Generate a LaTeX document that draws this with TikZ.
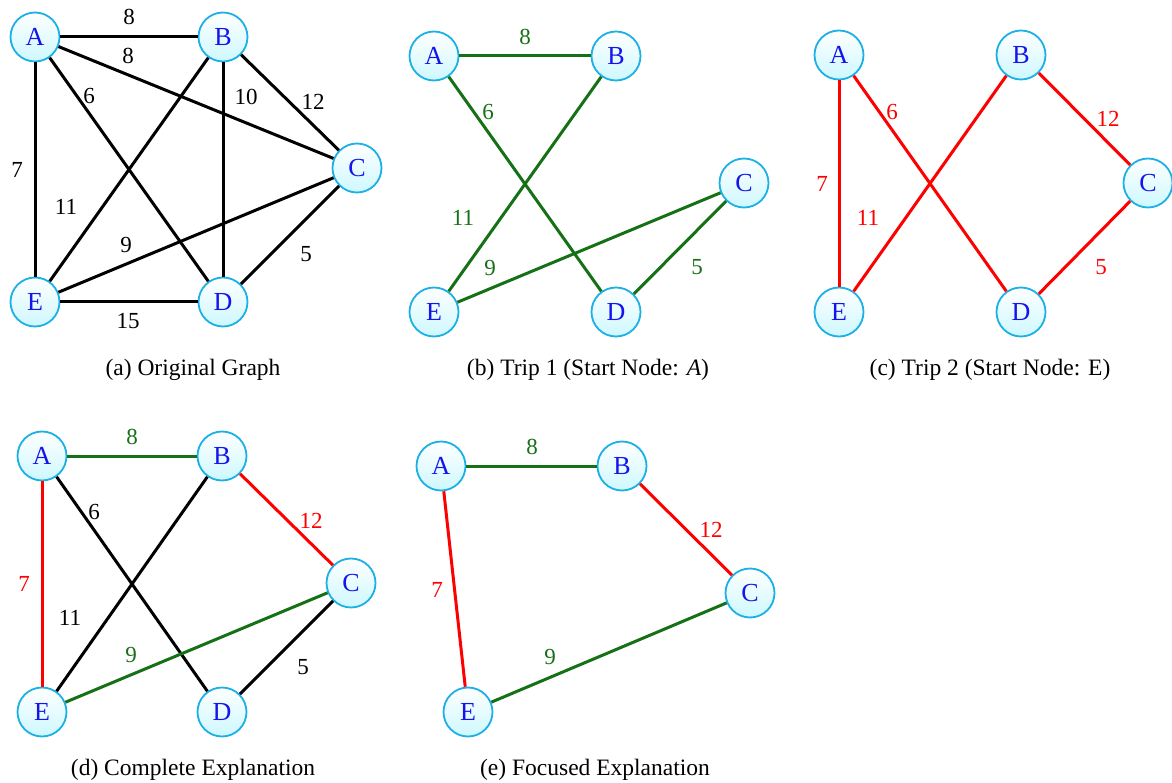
\documentclass[tikz,border=0pt]{standalone}
\usepackage{fontspec}
\setmainfont{Liberation Serif}
\definecolor{nborder}{RGB}{28,176,230}
\definecolor{nfill}{RGB}{205,248,255}
\definecolor{ntext}{RGB}{20,20,235}
\definecolor{egreen}{RGB}{22,112,22}
\definecolor{ered}{RGB}{255,0,0}
\tikzset{
  gnode/.style={circle, draw=nborder, line width=1.8pt, minimum size=49pt, inner sep=0pt,
    top color=white, bottom color=nfill, text=ntext, font=\fontsize{26}{30}\selectfont},
  edgeb/.style={line width=3pt, black},
  edgeg/.style={line width=3pt, egreen},
  edger/.style={line width=3pt, ered},
  lab/.style={inner sep=0pt, font=\fontsize{23}{28}\selectfont},
  labb/.style={lab, text=black},
  labg/.style={lab, text=egreen},
  labr/.style={lab, text=ered},
  capt/.style={inner sep=0pt, anchor=base, font=\fontsize{23.5}{28}\selectfont}
}
\begin{document}
\begin{tikzpicture}[x=1pt,y=-1pt]
\useasboundingbox (0,0) rectangle (1172,783);
% ---------- (a) ----------
\node[gnode] (aA) at (35,37) {A};
\node[gnode] (aB) at (223,37) {B};
\node[gnode] (aC) at (357,168) {C};
\node[gnode] (aD) at (223,302) {D};
\node[gnode] (aE) at (35,302) {E};
\draw[edgeb] (aA) -- (aB);
\draw[edgeb] (aA) -- (aC);
\draw[edgeb] (aA) -- (aD);
\draw[edgeb] (aA) -- (aE);
\draw[edgeb] (aB) -- (aC);
\draw[edgeb] (aB) -- (aD);
\draw[edgeb] (aB) -- (aE);
\draw[edgeb] (aC) -- (aD);
\draw[edgeb] (aC) -- (aE);
\draw[edgeb] (aE) -- (aD);
\node[labb] (la1) at (129,17) {8};
\node[labb] (la2) at (128,56) {8};
\node[labb] (la3) at (89,96) {6};
\node[labb] (la4) at (246,97) {10};
\node[labb] (la5) at (313,102) {12};
\node[labb] (la6) at (17,170) {7};
\node[labb] (la7) at (66,207) {11};
\node[labb] (la8) at (126,245) {9};
\node[labb] (la9) at (306,254) {5};
\node[labb] (la10) at (128,321) {15};
\node[capt] (ca) at (193,375) {(a) Original Graph};
% ---------- (b) ----------
\node[gnode] (bA) at (434,56) {A};
\node[gnode] (bB) at (616,56) {B};
\node[gnode] (bC) at (744,183) {C};
\node[gnode] (bD) at (616,312) {D};
\node[gnode] (bE) at (434,312) {E};
\draw[edgeg] (bA) -- (bB);
\draw[edgeg] (bA) -- (bD);
\draw[edgeg] (bB) -- (bE);
\draw[edgeg] (bE) -- (bC);
\draw[edgeg] (bC) -- (bD);
\node[labg] (lb1) at (525,37) {8};
\node[labg] (lb2) at (488,112) {6};
\node[labg] (lb3) at (463,218) {11};
\node[labg] (lb4) at (490,268) {9};
\node[labg] (lb5) at (697,267) {5};
\node[capt] (cb) at (588,375) {(b) Trip 1 (Start Node: \textit{A})};
% ---------- (c) ----------
\node[gnode] (cA) at (839,55) {A};
\node[gnode] (cB) at (1021,55) {B};
\node[gnode] (cC) at (1148,183) {C};
\node[gnode] (cD) at (1021,312) {D};
\node[gnode] (cE) at (839,312) {E};
\draw[edger] (cA) -- (cE);
\draw[edger] (cA) -- (cD);
\draw[edger] (cB) -- (cE);
\draw[edger] (cB) -- (cC);
\draw[edger] (cC) -- (cD);
\node[labr] (lc1) at (892,112) {6};
\node[labr] (lc2) at (1108,119) {12};
\node[labr] (lc3) at (822,184) {7};
\node[labr] (lc4) at (868,218) {11};
\node[labr] (lc5) at (1101,267) {5};
\node[capt] (cc) at (990,375) {(c) Trip 2 (Start Node: E)};
% ---------- (d) ----------
\node[gnode] (dA) at (42,456) {A};
\node[gnode] (dB) at (222,456) {B};
\node[gnode] (dC) at (351,583) {C};
\node[gnode] (dD) at (222,712) {D};
\node[gnode] (dE) at (42,712) {E};
\draw[edgeb] (dA) -- (dD);
\draw[edgeb] (dB) -- (dE);
\draw[edgeb] (dC) -- (dD);
\draw[edgeg] (dA) -- (dB);
\draw[edger] (dA) -- (dE);
\draw[edger] (dB) -- (dC);
\draw[edgeg] (dC) -- (dE);
\node[labg] (ld1) at (132,437) {8};
\node[labb] (ld2) at (94,512) {6};
\node[labr] (ld3) at (311,521) {12};
\node[labr] (ld4) at (24,584) {7};
\node[labb] (ld5) at (70,618) {11};
\node[labg] (ld6) at (131,655) {9};
\node[labb] (ld7) at (303,667) {5};
\node[capt] (cd) at (193,775) {(d) Complete Explanation};
% ---------- (e) ----------
\node[gnode] (eA) at (441,466) {A};
\node[gnode] (eB) at (622,466) {B};
\node[gnode] (eC) at (750,593) {C};
\node[gnode] (eE) at (468,712) {E};
\draw[edgeg] (eA) -- (eB);
\draw[edger] (eB) -- (eC);
\draw[edgeg] (eC) -- (eE);
\draw[edger] (eA) -- (eE);
\node[labg] (le1) at (532,447) {8};
\node[labr] (le2) at (711,530) {12};
\node[labr] (le3) at (437,590) {7};
\node[labg] (le4) at (550,657) {9};
\node[capt] (ce) at (595,775) {(e) Focused Explanation};
\end{tikzpicture}
\end{document}
